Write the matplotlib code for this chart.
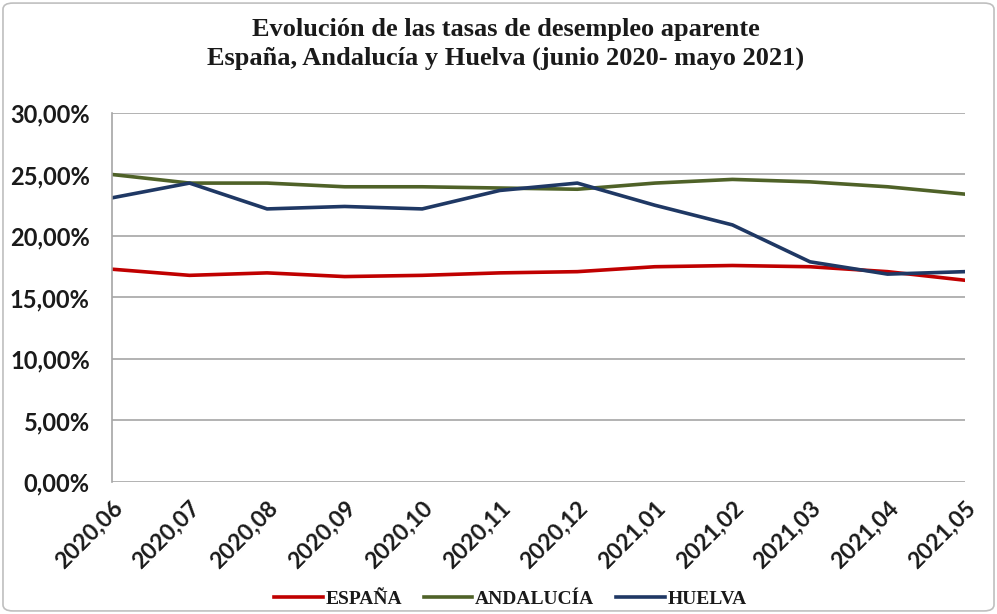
import matplotlib.pyplot as plt
from matplotlib.ticker import FuncFormatter
from matplotlib.patches import FancyBboxPatch

meses = ['2020,06', '2020,07', '2020,08', '2020,09', '2020,10', '2020,11',
         '2020,12', '2021,01', '2021,02', '2021,03', '2021,04', '2021,05']
espana = [17.3, 16.8, 17.0, 16.7, 16.8, 17.0, 17.1, 17.5, 17.6, 17.5, 17.1, 16.4]
andalucia = [25.0, 24.3, 24.3, 24.0, 24.0, 23.9, 23.8, 24.3, 24.6, 24.4, 24.0, 23.4]
huelva = [23.1, 24.3, 22.2, 22.4, 22.2, 23.7, 24.3, 22.5, 20.9, 17.9, 16.9, 17.1]

plt.rcParams['font.family'] = ['Liberation Serif', 'DejaVu Serif']

fig = plt.figure(figsize=(9.97, 6.14), dpi=100)
ax = fig.add_axes([0.1123, 0.215, 0.8557, 0.601])

x = range(len(meses))
ax.plot(x, espana, color='#c00000', lw=2.6, label='ESPAÑA')
ax.plot(x, andalucia, color='#4f6228', lw=2.6, label='ANDALUCÍA')
ax.plot(x, huelva, color='#1f3864', lw=2.6, label='HUELVA')

ax.set_xlim(0, len(meses) - 1)
ax.set_ylim(0, 30)
ax.set_yticks([0, 5, 10, 15, 20, 25, 30])
ax.yaxis.set_major_formatter(FuncFormatter(lambda v, p: f'{v:.2f}%'.replace('.', ',')))
ax.set_xticks(list(x))
ax.set_xticklabels(meses, rotation=45, ha='right', rotation_mode='anchor',
                   fontsize=16.5, fontweight='bold', family='Lato', color='#1a1a1a')
for t in ax.get_yticklabels():
    t.set_fontsize(17)
    t.set_fontweight('bold')
    t.set_family('Lato')
    t.set_color('#1a1a1a')

ax.grid(axis='y', color='#a6a6a6', lw=1.2)
ax.set_axisbelow(True)
for s in ['top', 'right', 'bottom']:
    ax.spines[s].set_visible(False)
ax.spines['left'].set_color('#a6a6a6')
ax.spines['left'].set_linewidth(1.2)
ax.tick_params(axis='y', length=0, pad=16)
ax.tick_params(axis='x', length=0, pad=11)

fig.text(0.507, 0.97, 'Evolución de las tasas de desempleo aparente\n'
         'España, Andalucía y Huelva (junio 2020- mayo 2021)',
         ha='center', va='top', fontsize=19, fontweight='bold', linespacing=1.3,
         color='#1a1a1a')

fig.legend(loc='lower center', bbox_to_anchor=(0.512, -0.018), ncol=3, frameon=False,
           prop={'weight': 'bold', 'size': 14}, handlelength=2.5, columnspacing=1.1,
           handletextpad=0.15, labelcolor='#1a1a1a')

fig.patches.append(FancyBboxPatch((0.003, 0.005), 0.994, 0.99, boxstyle='round,pad=0,rounding_size=0.01',
                                  transform=fig.transFigure, fill=False, ec='#bfbfbf', lw=1.2))

fig.savefig('out.png', dpi=100)
